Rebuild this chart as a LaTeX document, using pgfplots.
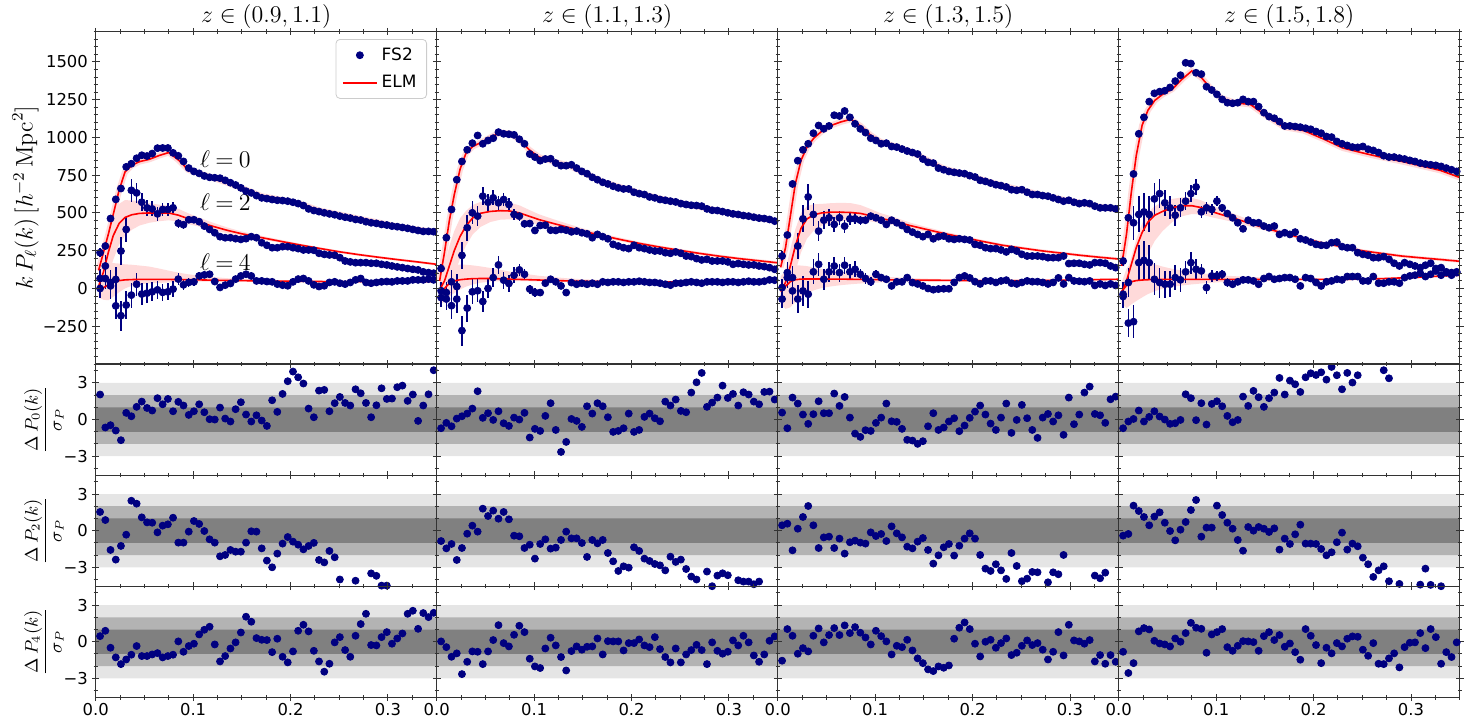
\documentclass[border=0pt]{standalone}
\usepackage[no-math]{fontspec}
\setmainfont{DejaVu Sans}
\usepackage{pgfplots}
\usepackage{pgfplotstable}
\pgfplotsset{compat=1.18}
\usepgfplotslibrary{fillbetween}
\definecolor{navy}{RGB}{0,0,128}
\definecolor{bandpink}{RGB}{255,218,218}
\definecolor{g1}{RGB}{229,229,229}
\definecolor{g2}{RGB}{179,179,179}
\definecolor{g3}{RGB}{128,128,128}

% power spectra: k, errors (e: panels 1-3, f: panel 4), then P0 P2 P4 for panels A-D
\pgfplotstableread{
k e0 e2 e4 f2 f4 A0 A2 A4 B0 B2 B4 C0 C2 C4 D0 D2 D4
0.0045 30 60 60 84 78 237 66 0 132 -15 -60 215 6 -70 182 -38 -53
0.0099 28 70 70 98 91 281 149 66 336 -27 -70 354 105 72 468 39 -229
0.0152 25 80 85 112 110 463 40 17 523 44 -114 692 72 -16 758 435 -220
0.0206 22 85 90 119 117 590 60 -115 720 13 -70 846 281 -70 1024 490 171
0.0259 20 90 100 126 130 662 248 -180 841 219 -279 918 461 -16 1133 507 186
0.0313 18 85 90 119 117 805 391 -110 918 402 -130 958 606 -38 1237 490 171
0.0366 15 75 82 105 107 826 650 -44 962 501 -22 1028 490 110 1292 593 61
0.0420 13 68 76 95 99 862 633 28 1013 479 -15 1079 380 160 1303 628 39
0.0473 11 60 70 84 91 882 571 -37 958 611 -86 1057 452 61 1309 567 28
0.0527 10 55 66 77 86 877 534 -31 980 571 0 1076 468 110 1331 534 28
0.0580 8 50 62 70 81 893 527 -22 995 600 72 1147 424 149 1373 485 72
0.0634 8 46 60 64 78 929 494 -9 1035 567 156 1142 468 105 1412 534 57
0.0687 8 43 57 60 74 930 523 -26 1024 589 55 1175 413 154 1494 578 110
0.0741 8 40 55 56 72 930 523 -22 1021 556 33 1133 461 110 1489 628 171
0.0794 8 37 52 52 68 898 534 -4 1017 490 88 1090 461 127 1428 672 127
0.0848 8 30 38 42 49 878 432 62 988 479 123 1057 452 94 1419 507 116
0.0901 8 27 34 38 44 841 422 24 958 428 94 1032 452 66 1336 534 6
0.0955 8 24 30 34 39 797 455 40 890 430 -4 995 479 44 1314 523 83
0.1008 8 22 27 31 35 775 455 44 870 384 -27 980 468 94 1285 578 83
0.1062 8 20 24 28 31 762 442 83 846 417 -27 958 452 72 1252 534 94
0.1115 8 18 22 25 29 745 413 90 857 419 35 962 424 61 1230 496 39
0.1169 8 16 20 22 26 736 391 94 859 386 61 940 452 17 1226 468 28
0.1222 8 15 18 21 23 733 369 46 830 384 44 936 435 44 1230 435 44
0.1276 8 14 16 20 21 730 343 7 813 391 17 923 417 44 1252 395 57
0.1329 8 13 15 18 20 716 336 22 813 386 -27 910 391 72 1237 452 57
0.1383 8 12 14 17 18 700 336 33 819 375 39 900 373 39 1237 435 50
0.1436 8 10 10 14 13 685 330 62 797 380 28 890 358 30 1204 435 28
0.1490 8 10 10 14 13 666 325 83 775 369 35 857 343 17 1164 413 66
0.1543 8 10 10 14 13 644 330 94 760 362 28 835 358 0 1138 402 79
0.1597 8 10 10 14 13 633 343 83 736 336 35 830 329 -8 1127 413 61
0.1650 8 10 10 14 13 615 336 50 720 358 28 797 343 -4 1105 358 66
0.1704 8 10 10 14 13 600 303 50 703 343 44 786 347 -2 1076 369 72
0.1757 8 10 10 14 13 595 286 46 692 329 40 775 329 -2 1076 358 72
0.1811 8 10 10 14 13 589 270 44 677 292 44 769 325 40 1072 373 61
0.1864 8 10 10 14 13 584 270 29 666 281 44 764 329 72 1068 329 17
0.1918 8 10 10 14 13 582 277 22 659 270 40 760 325 83 1061 321 72
0.1971 8 10 10 14 13 578 277 18 659 264 44 747 321 70 1054 307 66
0.2025 8 10 10 14 13 571 270 44 637 286 44 738 292 45 1039 292 40
0.2078 8 10 10 14 13 562 264 62 628 270 48 716 286 30 1028 286 17
0.2132 8 10 10 14 13 549 255 66 622 264 44 709 270 50 1006 286 44
0.2185 8 10 10 14 13 527 255 50 606 255 40 698 264 50 1002 303 50
0.2239 8 10 10 14 13 516 253 24 600 248 40 687 264 40 973 307 61
0.2292 8 10 10 14 13 509 233 13 589 248 35 681 255 50 958 277 57
0.2346 8 10 10 14 13 501 226 18 584 237 28 672 242 55 947 270 79
0.2399 8 10 10 14 13 494 222 40 578 233 22 654 259 35 936 270 79
0.2453 8 10 10 14 13 488 220 44 573 242 35 650 248 30 934 237 79
0.2506 8 10 10 14 13 479 204 35 562 233 35 654 226 40 940 226 50
0.2560 8 10 10 14 13 472 182 29 556 215 40 637 215 50 922 220 50
0.2613 8 10 10 14 13 466 176 40 551 211 44 622 215 45 914 204 79
0.2667 8 10 10 14 13 457 171 57 549 198 40 622 215 45 900 204 35
0.2720 8 10 10 14 13 453 171 66 545 189 35 615 211 40 879 211 35
0.2774 8 10 10 14 13 442 171 40 527 193 44 611 204 30 870 193 44
0.2827 8 10 10 14 13 435 167 35 518 182 44 600 204 40 870 167 44
0.2881 8 10 10 14 13 431 167 40 516 182 44 589 204 70 863 149 35
0.2934 8 10 10 14 13 424 160 44 509 182 40 578 215 30 857 171 72
0.2988 8 10 10 14 13 420 156 46 501 176 44 584 165 72 848 160 83
0.3041 8 10 10 14 13 413 149 44 494 160 44 571 167 50 841 149 88
0.3095 8 10 10 14 13 409 143 50 490 165 40 562 167 48 830 138 101
0.3148 8 10 10 14 13 404 138 50 483 160 44 567 160 45 824 154 79
0.3202 8 10 10 14 13 398 132 50 479 156 48 562 156 50 819 167 94
0.3255 8 10 10 14 13 391 127 57 472 156 44 545 171 20 815 132 116
0.3309 8 10 10 14 13 384 123 57 466 149 44 534 171 30 808 138 88
0.3362 8 10 10 14 13 378 110 57 463 145 48 534 167 20 797 105 110
0.3416 8 10 10 14 13 378 105 62 457 138 57 534 149 30 786 105 88
0.3469 8 10 10 14 13 376 101 57 446 127 55 527 138 20 775 110 105
}\pk

% residuals Delta P_l / sigma_P
\pgfplotstableread{
k a0 a2 a4 b0 b2 b4 c0 c2 c4 d0 d2 d4
0.0045 2.05 1.53 0.46 -0.71 -0.85 0.03 0.57 0.44 -1.55 -0.71 -0.41 -0.82
0.0099 -0.65 0.87 0.9 -0.27 -1.45 -0.44 -0.71 0.57 1.04 -0.16 -0.27 -2.56
0.0152 -0.46 -1.58 -0.49 -0.55 -1.09 -1.23 1.8 -1.61 0.49 0.05 2.05 -1.75
0.0206 -0.9 -2.37 -1.28 0.08 -2.4 -0.95 1.31 0.16 -0.98 0.74 1.61 0.85
0.0259 -1.69 -1.25 -1.83 0.27 -1.42 -2.65 0.41 1.12 -0.52 -0.16 1.12 1.12
0.0313 0.55 -0.33 -1.45 0.49 -0.25 -1.64 -0.35 2.02 -0.79 0.22 0.44 1.01
0.0366 0.27 2.45 -1.06 0.9 0.41 -0.79 0.44 0.44 0.49 0.68 1.15 0.08
0.0420 1.04 2.21 -0.35 2.32 -0.08 -0.82 1.5 -1.42 1.09 0.25 1.5 -0.14
0.0473 1.47 1.09 -1.17 0.14 1.8 -1.83 0.52 -0.55 -0.05 0 0.65 -0.22
0.0527 0.95 0.68 -1.17 0.52 1.2 -0.79 0.52 -0.49 0.55 -0.35 -0.03 -0.38
0.0580 0.74 0.65 -1.04 -0.03 1.64 0.14 2.13 -1.42 1.12 -0.3 -0.79 0.27
0.0634 1.75 -0.14 -0.93 0.68 0.98 1.36 1.12 -0.65 0.55 -0.03 0.08 0
0.0687 1.25 0.41 -1.28 -0.3 1.53 -0.11 1.85 -1.88 1.34 2.07 0.71 0.71
0.0741 1.69 0.52 -1.17 -0.52 0.93 -0.38 0.16 -0.95 0.71 1.75 1.69 1.55
0.0794 0.68 1.06 -1.06 0.16 -0.41 0.57 -1.15 -0.82 1.2 -0.05 2.51 1.15
0.0848 1.45 -0.98 0.03 0 -0.46 1.31 -1.42 -0.98 0.74 1.34 -0.49 1.06
0.0901 1.15 -0.98 -0.82 0.55 -1.42 0.79 -0.87 -1.06 0.35 -0.41 0.25 -0.9
0.0955 0.38 -0.08 -0.35 -1.47 -1.15 -1.39 -0.93 -0.14 -0.22 1.28 0.25 0.6
0.1008 0.68 0.79 -0.16 -0.76 -2.29 -2.02 -0.27 -0.44 0.9 1.5 2.05 0.79
0.1062 1.25 0.55 0.6 -0.93 -1.09 -2.15 0.16 -0.27 0.46 1.09 1.28 1.04
0.1115 0.6 -0.03 0.98 0.3 -0.71 -0.55 1.31 -0.85 0.03 0.3 0.65 -0.44
0.1169 0.03 -0.71 1.23 1.34 -1.47 0.33 -0.14 0.35 -1.04 -0.22 0.16 -0.74
0.1222 0 -0.98 -0.22 -0.85 -1.39 -0.3 -0.19 -0.22 -0.33 -0.03 -0.76 -0.33
0.1276 0.98 -2.1 -1.61 -2.65 -0.76 -1.25 -0.76 -0.55 -0.44 1.88 -1.64 0.05
0.1329 0.08 -1.99 -1.17 -1.83 -0.08 -2.35 -1.66 -1.31 0.16 1.12 0.3 0.03
0.1383 -0.16 -1.58 -0.55 0.05 -0.63 -0.76 -1.72 -1.45 -0.71 2.35 0 -0.03
0.1436 0.85 -1.72 -0.05 -0.11 -0.63 -0.38 -1.99 -0.9 -1.36 1.83 0.3 -0.74
0.1490 1.42 -1.72 0.76 -0.6 -1.01 -0.65 -1.77 -0.6 -1.75 1.04 0.16 0.46
0.1543 0.41 -0.98 2.05 1.09 -2.15 -0.41 -0.55 -1.58 -2.26 1.75 -0.11 0.79
0.1597 -0.16 -0.05 1.64 0.49 -0.76 -0.38 0.52 -2.7 -2.4 2.21 0.19 0.14
0.1650 0.35 -0.08 0.3 1.34 -1.04 0.27 -0.85 -2.02 -2.02 3.41 -1.55 0.55
0.1704 -0.08 -1.45 0.16 1.09 -0.76 -1.04 -0.65 -1.36 -2.13 2.05 -0.65 -0.41
0.1757 -0.52 -2.45 0.14 0.19 -1.83 0.05 -0.16 -1.09 -1.94 3.19 -1.09 -0.14
0.1811 1.58 -3.0 -0.85 -1.01 -2.51 0.03 0.11 -2.04 0.25 2.89 -0.3 -0.85
0.1864 0.63 -1.88 0.25 -0.93 -3.3 0.03 -0.95 -1.23 1.15 2.26 0.49 -1.47
0.1918 2.1 -1.06 -1.23 -0.71 -2.92 -0.71 -0.49 -0.65 1.58 3.46 -1.06 1.04
0.1971 3.14 -0.52 -1.69 0.49 -3.03 -0.11 0.14 -0.22 1.04 3.79 -1.06 0.49
0.2025 3.93 -0.9 -0.79 -1.01 -1.36 -0.11 0.65 -0.65 -0.16 3.65 -1.09 -0.27
0.2078 3.46 -1.15 0.9 -0.85 -1.66 0.19 1.15 -1.99 -1.2 3.87 -1.5 -1.75
0.2132 2.95 -1.53 1.39 0.22 -2.29 -0.3 0.41 -3.11 0 3.27 -2.02 -0.49
0.2185 0.9 -1.25 0.85 0.49 -2.48 -0.44 -0.33 -3.3 0.16 4.31 -1.77 -0.95
0.2239 0.19 -1.0 -0.74 0.11 -2.73 0.38 -0.85 -2.75 -0.49 3.63 -0.95 -0.11
0.2292 2.37 -2.4 -1.61 -0.14 -2.84 -0.6 0.16 -3.25 -0.11 2.48 -0.16 -0.38
0.2346 2.43 -2.6 -2.45 1.47 -3.25 -1.25 1.31 -3.95 0.27 3.82 -1.55 0.25
0.2399 0.68 -1.66 -1.8 1.15 -2.13 -1.69 -1.09 -1.83 -1.09 3.03 -1.06 0.44
0.2453 1.34 -2.18 -0.05 1.64 -2.56 -0.55 -0.03 -2.89 -0.9 3.63 -1.28 0.41
0.2506 1.85 -4.0 0.38 0.71 -2.37 -1.69 1.2 -4.14 -0.33 5 -2.21 -0.65
0.2560 1.36 -5 -0.68 0.6 -3.14 -1.04 0.11 -3.93 0.11 5 -2.75 -1.15
0.2613 1.15 -5 -1.23 2.21 -3.76 -0.68 -0.85 -3.38 -0.27 5 -3.79 -0.11
0.2667 2.48 -4.1 0.49 3.05 -4.0 -0.25 -1.5 -3.41 -0.11 5 -3.25 -1.8
0.2720 2.15 -4.6 1.45 3.82 -5 -0.68 0.16 -4.6 -0.65 4.04 -2.92 -1.83
0.2774 1.36 -5 2.29 1.04 -3.35 -1.83 0.46 -4.23 -1.45 3.38 -4.14 -1.36
0.2827 0.19 -3.5 -0.27 1.39 -4.55 -0.05 -0.16 -3.41 -0.82 5 -5 -0.95
0.2881 1.17 -3.7 -0.3 1.8 -3.68 -0.74 0.35 -3.57 0.79 5 -4.36 -2.1
0.2934 2.56 -4.5 0.38 2.78 -3.49 -0.98 -1.25 -1.99 -1.12 5 -5 -0.44
0.2988 1.69 -4.5 0.79 1.77 -3.65 -0.82 1.8 -5 1.39 5 -5 -0.08
0.3041 1.72 -5 -0.16 2.1 -5 0.11 -0.38 -4.58 0.11 5 -5 -0.05
0.3095 2.65 -5 0.27 1.15 -4.06 -0.3 0.41 -5 0.03 5 -4.42 0.71
0.3148 2.78 -5 0.68 2.24 -4.17 0.49 2.21 -5 -0.16 5 -3.11 -0.52
0.3202 1.53 -5 2.29 2.05 -4.17 -0.05 2.7 -5 0.14 5 -4.44 1.04
0.3255 2.05 -5 2.54 1.47 -4.39 -1.12 0.46 -3.68 -1.61 5 -5 0.38
0.3309 -0.11 -5 1.06 1.25 -4.17 -1.64 0.35 -3.9 -1.09 5 -4.55 -1.8
0.3362 1.15 -5 2.35 2.26 -5 -1.04 -0.27 -3.44 -1.8 5 -5 -0.85
0.3416 2.07 -5 2.02 2.29 -5 0.08 1.66 -5 -1.09 5 -5 -1.25
0.3469 4.04 -5 2.37 1.64 -5 0.44 1.88 -5 -1.64 5 -5 -0.05
}\rs

% ELM model curves and bands
\pgfplotstableread{
k m0 m2 m4 u2 l2 u4 l4
0.003 120 15 -10 55 -25 130 -60
0.008 240 110 5 240 0 150 -75
0.013 360 240 25 390 90 165 -78
0.018 490 350 42 490 190 168 -55
0.024 650 430 52 560 290 165 -25
0.030 770 470 57 585 350 160 0
0.037 815 488 59 583 388 157 18
0.045 840 497 60 577 417 152 28
0.055 855 500 60 565 435 145 34
0.065 880 500 60 555 445 132 37
0.075 900 500 60 548 452 118 40
0.085 850 485 59 527 443 105 42
0.095 785 462 58 498 426 94 44
0.105 765 442 57 472 412 86 45
0.120 733 412 55 436 388 76 46
0.135 700 385 53 404 366 68 46
0.150 665 362 52 377 347 63 46
0.170 612 337 50 349 325 58 45
0.190 588 312 48 322 302 55 43
0.210 560 288 47 296 280 53 42
0.230 515 265 46 273 257 52 41
0.250 490 243 45 251 235 51 41
0.270 462 224 45 232 216 50 41
0.290 437 207 45 215 199 50 41
0.310 410 191 45 199 183 50 41
0.330 390 176 45 184 168 50 41
0.350 372 160 45 168 152 50 41
}\mA
\pgfplotstableread{
k m0 m2 m4 u2 l2 u4 l4
0.003 50 -10 -40 30 -40 40 -100
0.008 240 50 0 150 0 110 -90
0.013 450 150 35 280 50 145 -55
0.018 620 250 50 380 100 155 -30
0.024 790 345 58 465 195 158 -7
0.030 895 413 62 513 283 157 12
0.037 940 468 65 553 358 153 27
0.045 965 498 66 573 408 146 38
0.055 1000 510 66 575 440 136 46
0.065 1032 515 64 575 455 124 48
0.075 1027 513 62 568 458 112 48
0.085 985 500 60 550 452 102 48
0.095 918 478 58 520 438 93 48
0.105 870 456 56 491 423 84 47
0.120 840 430 53 458 404 75 45
0.135 815 405 50 427 385 67 43
0.150 770 380 48 398 364 61 42
0.170 706 350 46 364 337 56 41
0.190 668 322 45 334 311 53 40
0.210 628 296 44 306 286 50 39
0.230 594 273 44 283 263 50 39
0.250 566 252 44 262 242 50 39
0.270 540 232 44 242 222 50 39
0.290 512 214 44 224 204 50 39
0.310 488 198 44 208 188 50 39
0.330 468 184 44 194 174 50 39
0.350 443 170 45 180 160 51 40
}\mB
\pgfplotstableread{
k m0 m2 m4 u2 l2 u4 l4
0.003 140 -20 0 20 -50 80 -100
0.008 270 40 15 130 -20 115 -135
0.013 480 150 45 260 20 145 -125
0.018 690 280 58 390 110 153 -92
0.024 850 400 62 500 240 152 -58
0.030 935 460 63 545 330 148 -32
0.037 995 488 63 558 383 138 -12
0.045 1040 500 63 560 415 128 3
0.055 1080 505 62 565 435 117 14
0.065 1103 505 62 567 445 110 22
0.075 1120 503 61 565 451 101 28
0.085 1076 497 60 552 452 93 33
0.095 1017 482 59 527 444 86 37
0.105 973 465 58 500 434 80 40
0.120 942 445 57 471 420 74 43
0.135 910 418 56 438 399 69 45
0.150 862 395 55 411 380 65 46
0.170 795 365 54 378 353 62 47
0.190 760 338 53 349 328 59 47
0.210 720 312 52 322 303 58 46
0.230 682 287 52 297 278 58 46
0.250 652 268 52 278 259 58 46
0.270 620 250 53 260 241 59 47
0.290 592 235 55 245 226 61 49
0.310 568 220 57 230 211 63 51
0.330 542 207 59 217 198 65 53
0.350 520 195 61 205 186 67 55
}\mC
\pgfplotstableread{
k m0 m2 m4 u2 l2 u4 l4
0.003 150 -30 -20 0 -80 40 -100
0.008 360 50 20 90 -100 130 -130
0.013 640 160 45 210 -60 175 -105
0.018 880 270 52 325 20 182 -83
0.024 1080 370 56 430 130 181 -59
0.030 1180 440 58 500 230 173 -37
0.037 1245 485 60 545 315 160 -18
0.045 1285 510 60 570 380 145 -2
0.055 1320 535 60 593 440 130 10
0.065 1385 548 60 603 478 118 20
0.075 1440 548 60 600 493 108 27
0.085 1395 535 60 583 490 100 33
0.095 1320 510 60 552 472 93 38
0.105 1262 490 60 526 458 87 42
0.120 1228 462 60 490 437 81 46
0.135 1219 430 60 452 410 76 49
0.150 1150 400 60 418 384 73 51
0.170 1068 365 60 379 352 70 52
0.190 1045 330 60 342 319 68 53
0.210 990 300 60 310 290 67 53
0.230 930 275 61 285 265 68 54
0.250 898 250 62 260 240 69 55
0.270 868 232 65 242 222 72 58
0.290 842 215 70 225 205 77 63
0.310 812 203 75 213 193 82 68
0.330 782 192 82 202 182 89 75
0.350 735 180 88 190 170 95 81
}\mD

\pgfplotsset{
  base/.style={scale only axis, width=170.5pt, anchor=north west,
    xmin=0, xmax=0.35, xtick={0,0.1,0.2,0.3}, minor xtick={0,0.025,...,0.35},
    tick align=center, tick pos=both, major tick length=3.8pt, minor tick length=2.2pt,
    axis line style={black!80, line width=0.6pt},
    every tick/.append style={black!80, line width=0.5pt},
    tick label style={font=\fontsize{8.2}{10}\selectfont, black},
    xticklabel style={yshift=2.4pt},
    yticklabel style={xshift=1.5pt},
    xticklabels={}, yticklabels={}, scaled ticks=false, axis on top=true, clip=true,
    every axis y label/.style={at={(axis description cs:-0.206,0.5)}, rotate=90, anchor=center}},
  top/.style={base, height=166.15pt, ymin=-500, ymax=1700, ytick={-250,0,...,1500},
    minor ytick={-500,-450,...,1700},
    every axis title/.style={font=\fontsize{11.5}{14}\selectfont, inner sep=1pt, at={(0.5,1)}, anchor=south, yshift=0.6pt}},
  res/.style={base, height=55.55pt, ymin=-4.55, ymax=4.55, ytick={-3,0,3}, minor ytick={-4,-3,...,4},
    every axis y label/.style={at={(axis description cs:-0.152,0.5)}, rotate=90, anchor=center, font=\fontsize{9}{11}\selectfont}},
  dat/.style={only marks, mark=*, mark size=1.75pt, color=navy, mark options={solid, fill=navy, draw=navy}},
  err/.style={error bars/.cd, y dir=both, y explicit, error mark=none, error bar style={line width=0.75pt, navy}},
  mod/.style={red, line width=0.8pt, no marks},
}
\newcommand{\modelbands}[2]{%
  \addplot[name path=u2#2, draw=none, forget plot] table[x=k,y=u2]{#1};
  \addplot[name path=l2#2, draw=none, forget plot] table[x=k,y=l2]{#1};
  \addplot[bandpink, forget plot] fill between[of=u2#2 and l2#2];
  \addplot[name path=u4#2, draw=none, forget plot] table[x=k,y=u4]{#1};
  \addplot[name path=l4#2, draw=none, forget plot] table[x=k,y=l4]{#1};
  \addplot[bandpink, forget plot] fill between[of=u4#2 and l4#2];
  \addplot[bandpink, line width=3pt, forget plot] table[x=k,y=m0]{#1};
}
\newcommand{\modellines}[1]{%
  \addplot[mod, forget plot] table[x=k,y=m2]{#1};
  \addplot[mod, forget plot] table[x=k,y=m4]{#1};
}
\newcommand{\resbands}{%
  \addplot[fill=g1, draw=none, forget plot] coordinates {(0,-3) (0.35,-3) (0.35,3) (0,3) (0,-3)};
  \addplot[fill=g2, draw=none, forget plot] coordinates {(0,-2) (0.35,-2) (0.35,2) (0,2) (0,-2)};
  \addplot[fill=g3, draw=none, forget plot] coordinates {(0,-1) (0.35,-1) (0.35,1) (0,1) (0,-1)};
}

\begin{document}
\begin{tikzpicture}
% ---------------- top row ----------------
\begin{axis}[top, at={(47.85pt,-15.85pt)}, title={$z\in(0.9,1.1)$},
  yticklabels={−250,0,250,500,750,1000,1250,1500},
  ylabel={$k\,P_\ell(k)\,[h^{-2}\,\mathrm{Mpc}^2]$},
  ylabel style={font=\fontsize{11.5}{14}\selectfont},
  legend cell align=left,
  legend style={at={(0.9716,0.978)}, anchor=north east, draw=black!20, rounded corners=2pt,
    font=\fontsize{8.5}{10}\selectfont, inner xsep=3pt, inner ysep=2pt, row sep=2pt}]
\modelbands{\mA}{A}
\addplot[dat, err] table[x=k, y=A0, y error=e0]{\pk};
\addlegendentry{FS2}
\addplot[dat, forget plot, err] table[x=k, y=A2, y error=e2]{\pk};
\addplot[dat, forget plot, err] table[x=k, y=A4, y error=e4]{\pk};
\addplot[mod] table[x=k,y=m0]{\mA};
\addlegendentry{ELM}
\modellines{\mA}
\node[anchor=west, font=\fontsize{11.5}{14}\selectfont] at (axis cs:0.1,859) {$\ell\mkern-1mu=\mkern-1mu0$};
\node[anchor=west, font=\fontsize{11.5}{14}\selectfont] at (axis cs:0.1,571) {$\ell\mkern-1mu=\mkern-1mu2$};
\node[anchor=west, font=\fontsize{11.5}{14}\selectfont] at (axis cs:0.1,171) {$\ell\mkern-1mu=\mkern-1mu4$};
\end{axis}

\begin{axis}[top, at={(218.35pt,-15.85pt)}, title={$z\in(1.1,1.3)$}]
\modelbands{\mB}{B}
\addplot[dat, err] table[x=k, y=B0, y error=e0]{\pk};
\addplot[dat, err] table[x=k, y=B2, y error=e2]{\pk};
\addplot[dat, err] table[x=k, y=B4, y error=e4]{\pk};
\addplot[mod] table[x=k,y=m0]{\mB};
\modellines{\mB}
\end{axis}

\begin{axis}[top, at={(388.85pt,-15.85pt)}, title={$z\in(1.3,1.5)$}]
\modelbands{\mC}{C}
\addplot[dat, err] table[x=k, y=C0, y error=e0]{\pk};
\addplot[dat, err] table[x=k, y=C2, y error=e2]{\pk};
\addplot[dat, err] table[x=k, y=C4, y error=e4]{\pk};
\addplot[mod] table[x=k,y=m0]{\mC};
\modellines{\mC}
\end{axis}

\begin{axis}[top, at={(559.35pt,-15.85pt)}, title={$z\in(1.5,1.8)$}]
\modelbands{\mD}{D}
\addplot[dat, err] table[x=k, y=D0, y error=e0]{\pk};
\addplot[dat, err] table[x=k, y=D2, y error=f2]{\pk};
\addplot[dat, err] table[x=k, y=D4, y error=f4]{\pk};
\addplot[mod] table[x=k,y=m0]{\mD};
\modellines{\mD}
\end{axis}

% ---------------- residual row 1 (l=0) ----------------
\begin{axis}[res, at={(47.85pt,-182pt)}, yticklabels={−3,0,3},
  ylabel={$\displaystyle\frac{\Delta\, P_0(k)}{\sigma_P}$}]
\resbands
\addplot[dat] table[x=k, y=a0]{\rs};
\end{axis}
\begin{axis}[res, at={(218.35pt,-182pt)}]
\resbands
\addplot[dat] table[x=k, y=b0]{\rs};
\end{axis}
\begin{axis}[res, at={(388.85pt,-182pt)}]
\resbands
\addplot[dat] table[x=k, y=c0]{\rs};
\end{axis}
\begin{axis}[res, at={(559.35pt,-182pt)}]
\resbands
\addplot[dat] table[x=k, y=d0]{\rs};
\end{axis}

% ---------------- residual row 2 (l=2) ----------------
\begin{axis}[res, at={(47.85pt,-237.55pt)}, yticklabels={−3,0,3},
  ylabel={$\displaystyle\frac{\Delta\, P_2(k)}{\sigma_P}$}]
\resbands
\addplot[dat] table[x=k, y=a2]{\rs};
\end{axis}
\begin{axis}[res, at={(218.35pt,-237.55pt)}]
\resbands
\addplot[dat] table[x=k, y=b2]{\rs};
\end{axis}
\begin{axis}[res, at={(388.85pt,-237.55pt)}]
\resbands
\addplot[dat] table[x=k, y=c2]{\rs};
\end{axis}
\begin{axis}[res, at={(559.35pt,-237.55pt)}]
\resbands
\addplot[dat] table[x=k, y=d2]{\rs};
\end{axis}

% ---------------- residual row 3 (l=4) ----------------
\begin{axis}[res, at={(47.85pt,-293.1pt)}, yticklabels={−3,0,3}, xticklabels={0.0,0.1,0.2,0.3},
  ylabel={$\displaystyle\frac{\Delta\, P_4(k)}{\sigma_P}$}]
\resbands
\addplot[dat] table[x=k, y=a4]{\rs};
\end{axis}
\begin{axis}[res, at={(218.35pt,-293.1pt)}, xticklabels={0.0,0.1,0.2,0.3}]
\resbands
\addplot[dat] table[x=k, y=b4]{\rs};
\end{axis}
\begin{axis}[res, at={(388.85pt,-293.1pt)}, xticklabels={0.0,0.1,0.2,0.3}]
\resbands
\addplot[dat] table[x=k, y=c4]{\rs};
\end{axis}
\begin{axis}[res, at={(559.35pt,-293.1pt)}, xticklabels={0.0,0.1,0.2,0.3}]
\resbands
\addplot[dat] table[x=k, y=d4]{\rs};
\end{axis}

\pgfresetboundingbox
\path (0pt,0pt) rectangle (732.5pt,-358.5pt);
\end{tikzpicture}
\end{document}
